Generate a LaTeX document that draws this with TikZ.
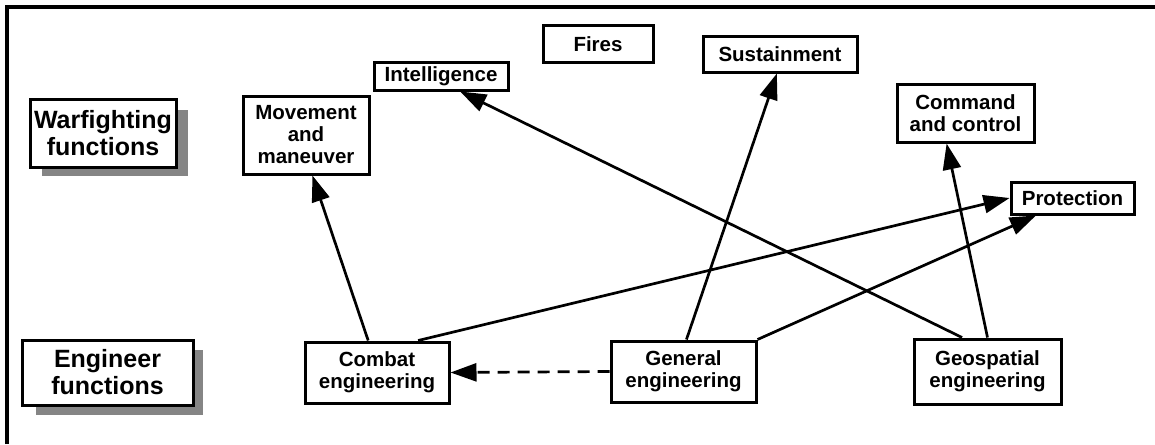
\documentclass[tikz,border=0pt]{standalone}
\usepackage{fontspec}
\setmainfont{Liberation Sans}
\usetikzlibrary{arrows.meta,calc}
\begin{document}
\begin{tikzpicture}[x=1pt,y=-1pt,
  box/.style={draw, line width=3pt, fill=white, inner sep=0pt, align=center,
    font=\bfseries\fontsize{20.5}{22}\selectfont},
  bigbox/.style={box, font=\bfseries\fontsize{25}{27}\selectfont},
  shadowfill/.style={fill=black!48},
  arr/.style={line width=2.7pt, -{Triangle[length=26pt,width=18pt]}},
  dasharr/.style={arr, dash pattern=on 12pt off 8pt},
]
\useasboundingbox (0,0) rectangle (1155,444);
\fill[white] (0,0) rectangle (1155,444);
\draw[line width=3.5pt] (7,444) -- (7,7) -- (1155,7);

% shadows
\fill[shadowfill] (42,110) rectangle (188,176);
\fill[shadowfill] (36,350) rectangle (203,415);

% warfighting functions
\node[bigbox, minimum width=146pt, minimum height=68pt] (warf) at (103,133) {Warfighting\\functions};
\node[box, minimum width=126pt, minimum height=78pt] (move) at (306,135) {Movement\\and\\maneuver};
\node[box, minimum width=134pt, minimum height=28pt] (intel) at (441,76) {Intelligence};
\node[box, minimum width=110pt, minimum height=36pt] (fires) at (598,44) {Fires};
\node[box, minimum width=154pt, minimum height=35pt] (sust) at (780,54.5) {Sustainment};
\node[box, minimum width=137pt, minimum height=58pt] (cc) at (965.5,113) {Command\\and control};
\node[box, minimum width=123pt, minimum height=32pt] (prot) at (1072.5,198) {Protection};

% engineer functions
\node[bigbox, minimum width=171pt, minimum height=65pt] (engf) at (107.5,372.5) {Engineer\\functions};
\node[box, minimum width=144pt, minimum height=61pt] (comb) at (377,372.5) {Combat\\engineering};
\node[box, minimum width=145pt, minimum height=61pt] (gen) at (683.5,371.5) {General\\engineering};
\node[box, minimum width=147pt, minimum height=65pt] (geo) at (987.5,371.5) {Geospatial\\engineering};

% connectors
\draw[arr] ($(comb.north west)!0.44!(comb.north east)$) -- ($(move.south west)!0.55!(move.south east)$);
\draw[arr] ($(comb.north west)!0.78!(comb.north east)$) -- (prot.west);
\draw[arr] ($(gen.north west)!0.52!(gen.north east)$) -- ($(sust.south west)!0.48!(sust.south east)$);
\draw[arr] (gen.north east) -- ($(prot.south west)!0.21!(prot.south east)$);
\draw[arr] ($(geo.north west)!0.33!(geo.north east)$) -- ($(intel.south west)!0.64!(intel.south east)$);
\draw[arr] ($(geo.north west)!0.50!(geo.north east)$) -- ($(cc.south west)!0.365!(cc.south east)$);
\draw[dasharr] (gen.west) -- (comb.east);
\end{tikzpicture}
\end{document}
